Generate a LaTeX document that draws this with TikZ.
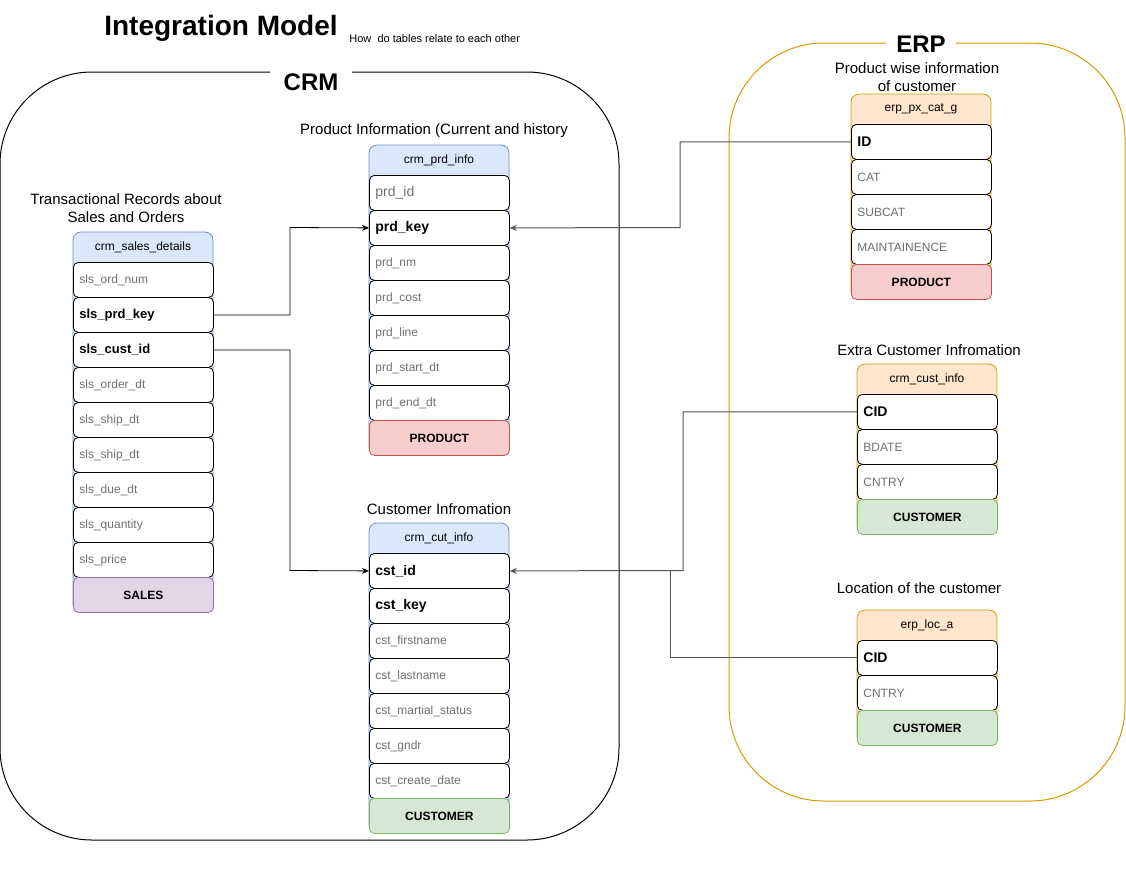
\documentclass[tikz,border=0pt]{standalone}
\usepackage{fontspec}
\setmainfont{Liberation Sans}
\usetikzlibrary{arrows.meta}
\definecolor{bluefill}{HTML}{DAE8FC}\definecolor{bluedraw}{HTML}{6C8EBF}
\definecolor{redfill}{HTML}{F8CECC}\definecolor{reddraw}{HTML}{B85450}
\definecolor{greenfill}{HTML}{D5E8D4}\definecolor{greendraw}{HTML}{82B366}
\definecolor{purpfill}{HTML}{E1D5E7}\definecolor{purpdraw}{HTML}{9673A6}
\definecolor{orfill}{HTML}{FFE6CC}\definecolor{ordraw}{HTML}{D79B00}
\definecolor{fieldgray}{HTML}{707070}
\definecolor{conngray}{HTML}{555555}
\begin{document}
\begin{tikzpicture}[x=1pt,y=-1pt,line width=0.8pt,
  field/.style={draw=black,fill=white,rounded corners=5pt,minimum height=35pt,text width=128pt,inner xsep=6pt,inner ysep=0pt,align=left,anchor=north west,font=\fontsize{12}{14}\selectfont,text=fieldgray},
  keyf/.style={field,font=\bfseries\fontsize{14}{16}\selectfont,text=black},
  skeyf/.style={field,font=\bfseries\fontsize{13}{15}\selectfont,text=black},
  body/.style 2 args={draw=#1,fill=#2,rounded corners=8pt},
  hdr/.style={font=\fontsize{12}{14}\selectfont,inner sep=0pt},
  foot/.style 2 args={draw=#1,fill=#2,rounded corners=5pt,minimum height=35pt,minimum width=140pt,inner sep=0pt,anchor=north west,font=\bfseries\fontsize{12}{14}\selectfont},
  ttl/.style={font=\fontsize{15}{17.5}\selectfont,align=center,inner sep=0pt},
  blk/.style={draw=black,-{Stealth[length=7pt,width=6pt]}},
  gry/.style={draw=conngray,line width=1pt,-{Stealth[length=7pt,width=6pt]}},
  gryl/.style={draw=conngray,line width=1pt}]
\useasboundingbox (0,0) rectangle (1126,870);

% titles
\node[font=\bfseries\fontsize{28}{32}\selectfont,inner sep=0pt] (title) at (221,28) {Integration Model};
\node[font=\fontsize{11}{13}\selectfont,anchor=west,inner sep=0pt] (subtitle) at (349,39) {How\ \ do tables relate to each other};

% containers
\draw[black,line width=1pt,rounded corners=92pt] (270,72) -- (0,72) -- (0,840) -- (619,840) -- (619,72) -- (352,72);
\node[font=\bfseries\fontsize{24}{28}\selectfont,inner sep=0pt] (crm) at (311,82) {CRM};
\draw[ordraw,line width=1pt,rounded corners=95pt] (886,43) -- (729,43) -- (729,801) -- (1125,801) -- (1125,43) -- (956,43);
\node[font=\bfseries\fontsize{24}{28}\selectfont,inner sep=0pt] (erp) at (921,44) {ERP};

% ---- crm_sales_details
\node[ttl] (salesttl) at (126,208) {Transactional Records about\\Sales and Orders};
\path[body={bluedraw}{bluefill}] (73,232) rectangle (213,612);
\node[hdr] (saleshdr) at (143,247) {crm\_sales\_details};
\node[field] (s1) at (73,262) {sls\_ord\_num};
\node[skeyf] (slsprdkey) at (73,297) {sls\_prd\_key};
\node[skeyf] (slscustid) at (73,332) {sls\_cust\_id};
\node[field] (s4) at (73,367) {sls\_order\_dt};
\node[field] (s5) at (73,402) {sls\_ship\_dt};
\node[field] (s6) at (73,437) {sls\_ship\_dt};
\node[field] (s7) at (73,472) {sls\_due\_dt};
\node[field] (s8) at (73,507) {sls\_quantity};
\node[field] (s9) at (73,542) {sls\_price};
\node[foot={purpdraw}{purpfill}] (salesfoot) at (73,577) {SALES};

% ---- crm_prd_info
\node[ttl] (prdttl) at (434,131) {Product Information (Current and history};
\path[body={bluedraw}{bluefill}] (369,145) rectangle (509,455);
\node[hdr] (prdhdr) at (439,160) {crm\_prd\_info};
\node[field,font=\fontsize{14}{16}\selectfont] (p1) at (369,175) {prd\_id};
\node[keyf] (prdkey) at (369,210) {prd\_key};
\node[field] (p3) at (369,245) {prd\_nm};
\node[field] (p4) at (369,280) {prd\_cost};
\node[field] (p5) at (369,315) {prd\_line};
\node[field] (p6) at (369,350) {prd\_start\_dt};
\node[field] (p7) at (369,385) {prd\_end\_dt};
\node[foot={reddraw}{redfill}] (prdfoot) at (369,420) {PRODUCT};

% ---- crm_cut_info
\node[ttl] (cstttl) at (439,509) {Customer Infromation};
\path[body={bluedraw}{bluefill}] (369,523) rectangle (509,833);
\node[hdr] (csthdr) at (439,538) {crm\_cut\_info};
\node[keyf] (cstid) at (369,553) {cst\_id};
\node[keyf] (cstkey) at (369,588) {cst\_key};
\node[field] (c3) at (369,623) {cst\_firstname};
\node[field] (c4) at (369,658) {cst\_lastname};
\node[field] (c5) at (369,693) {cst\_martial\_status};
\node[field] (c6) at (369,728) {cst\_gndr};
\node[field] (c7) at (369,763) {cst\_create\_date};
\node[foot={greendraw}{greenfill}] (cstfoot) at (369,798) {CUSTOMER};

% ---- erp_px_cat_g
\node[ttl] (pxttl) at (917,77) {Product wise information\\of customer};
\path[body={ordraw}{orfill}] (851,94) rectangle (991,299);
\node[hdr] (pxhdr) at (921,109) {erp\_px\_cat\_g};
\node[keyf] (erpid) at (851,124) {ID};
\node[field] (x2) at (851,159) {CAT};
\node[field] (x3) at (851,194) {SUBCAT};
\node[field] (x4) at (851,229) {MAINTAINENCE};
\node[foot={reddraw}{redfill}] (pxfoot) at (851,264) {PRODUCT};

% ---- crm_cust_info (ERP)
\node[ttl] (custttl) at (929,350) {Extra Customer Infromation};
\path[body={ordraw}{orfill}] (857,364) rectangle (997,534);
\node[hdr] (custhdr) at (927,379) {crm\_cust\_info};
\node[keyf] (cidA) at (857,394) {CID};
\node[field] (u2) at (857,429) {BDATE};
\node[field] (u3) at (857,464) {CNTRY};
\node[foot={greendraw}{greenfill}] (custfoot) at (857,499) {CUSTOMER};

% ---- erp_loc_a
\node[ttl] (locttl) at (919,588) {Location of the customer};
\path[body={ordraw}{orfill}] (857,610) rectangle (997,745);
\node[hdr] (lochdr) at (927,625) {erp\_loc\_a};
\node[keyf] (cidB) at (857,640) {CID};
\node[field] (l2) at (857,675) {CNTRY};
\node[foot={greendraw}{greenfill}] (locfoot) at (857,710) {CUSTOMER};

% ---- connectors
\draw[blk] (slsprdkey.east) -| (290,227.5) -- (prdkey.west);
\draw[blk] (slscustid.east) -| (290,570.5) -- (cstid.west);
\draw[gry] (erpid.west) -| (680,227.5) -- (prdkey.east);
\draw[gry] (cidA.west) -| (683,570.5) -- (cstid.east);
\draw[gryl] (cidB.west) -| (670,570.5);
\end{tikzpicture}
\end{document}
